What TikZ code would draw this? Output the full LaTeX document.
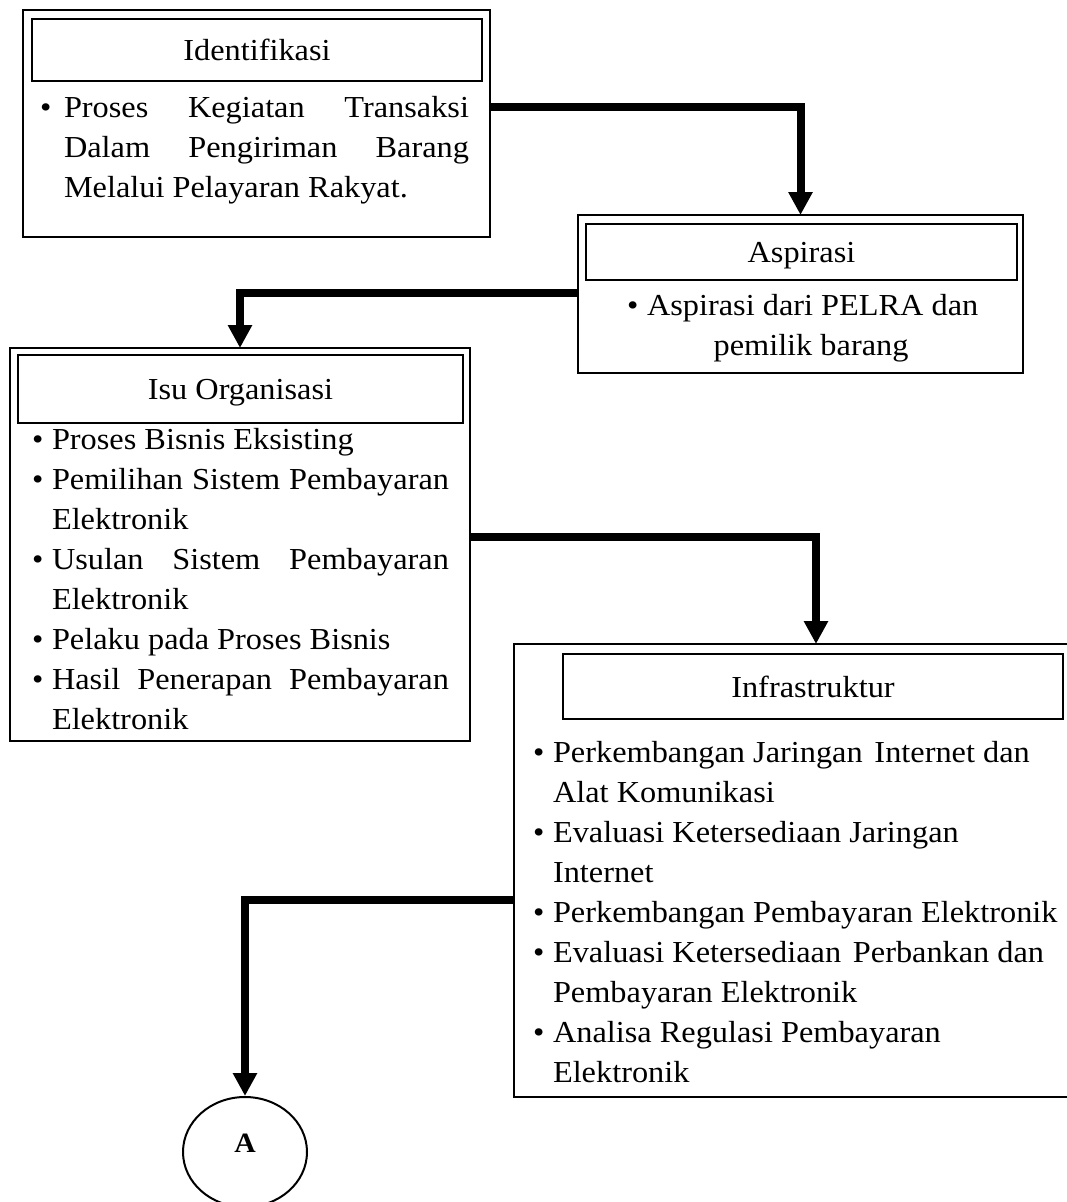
\documentclass[tikz,border=0pt]{standalone}
\usepackage{fontspec}
\setmainfont[FakeStretch=1.06]{Liberation Serif}
\usetikzlibrary{arrows.meta,shapes.geometric}
\begin{document}
\begin{tikzpicture}[x=1pt,y=-1pt,
  frame/.style={draw,line width=2pt,inner sep=0pt,outer sep=0pt,anchor=north west},
  titlebox/.style={frame,text height=21pt,text depth=0pt,font=\fontsize{30.5}{40}\selectfont},
  txt/.style={inner sep=0pt,outer sep=0pt,anchor=base west,font=\fontsize{30.5}{40}\selectfont},
  conn/.style={line width=8pt,-{Triangle[width=23pt,length=23pt]}}]
\useasboundingbox (0,0) rectangle (1067,1202);
\clip (0,0) rectangle (1067,1202);

% Identifikasi
\node[frame,minimum width=467pt,minimum height=227pt] (ident) at (23,10) {};
\node[titlebox,minimum width=450pt,minimum height=62pt] (identT) at (32,19) {Identifikasi};
\node[txt] (ib1) at (40,117) {•};
\node[txt] (i1) at (64,117) {\makebox[405pt][s]{Proses Kegiatan Transaksi}};
\node[txt] (i2) at (64,157) {\makebox[405pt][s]{Dalam Pengiriman Barang}};
\node[txt] (i3) at (64,197) {Melalui Pelayaran Rakyat.};

% Aspirasi
\node[frame,minimum width=445pt,minimum height=158pt] (asp) at (578,215) {};
\node[titlebox,minimum width=431pt,minimum height=56pt] (aspT) at (586,224) {Aspirasi};
\node[txt] (ab1) at (627,315) {•};
\node[txt] (a1) at (647,315) {Aspirasi dari PELRA dan};
\node[txt,anchor=base] (a2) at (811,355) {pemilik barang};

% Isu Organisasi
\node[frame,minimum width=460pt,minimum height=393pt] (isu) at (10,348) {};
\node[titlebox,minimum width=445pt,minimum height=68pt] (isuT) at (18,355) {Isu Organisasi};
\node[txt] (sb1) at (32,449) {•};
\node[txt] (s1) at (52,449) {Proses Bisnis Eksisting};
\node[txt] (sb2) at (32,489) {•};
\node[txt] (s2) at (52,489) {\makebox[397pt][s]{Pemilihan Sistem Pembayaran}};
\node[txt] (s3) at (52,529) {Elektronik};
\node[txt] (sb4) at (32,569) {•};
\node[txt] (s4) at (52,569) {\makebox[397pt][s]{Usulan Sistem Pembayaran}};
\node[txt] (s5) at (52,609) {Elektronik};
\node[txt] (sb6) at (32,649) {•};
\node[txt] (s6) at (52,649) {Pelaku pada Proses Bisnis};
\node[txt] (sb7) at (32,689) {•};
\node[txt] (s7) at (52,689) {\makebox[397pt][s]{Hasil Penerapan Pembayaran}};
\node[txt] (s8) at (52,729) {Elektronik};

% Infrastruktur
\node[frame,minimum width=604pt,minimum height=453pt] (inf) at (514,644) {};
\node[titlebox,minimum width=500pt,minimum height=65pt] (infT) at (563,654) {Infrastruktur};
\node[txt] (fb1) at (533,762) {•};
\node[txt] (f1) at (553,762) {Perkembangan Jaringan\hspace{0.12em} Internet dan};
\node[txt] (f2) at (553,802) {Alat Komunikasi};
\node[txt] (fb3) at (533,842) {•};
\node[txt] (f3) at (553,842) {Evaluasi Ketersediaan Jaringan};
\node[txt] (f4) at (553,882) {Internet};
\node[txt] (fb5) at (533,922) {•};
\node[txt] (f5) at (553,922) {Perkembangan Pembayaran Elektronik};
\node[txt] (fb6) at (533,962) {•};
\node[txt] (f6) at (553,962) {Evaluasi Ketersediaan\hspace{0.12em} Perbankan dan};
\node[txt] (f7) at (553,1002) {Pembayaran Elektronik};
\node[txt] (fb8) at (533,1042) {•};
\node[txt] (f8) at (553,1042) {Analisa Regulasi Pembayaran};
\node[txt] (f9) at (553,1082) {Elektronik};

% Off-page connector A
\node[draw,ellipse,line width=2pt,inner sep=0pt,minimum width=124pt,minimum height=110pt] (A) at (245,1152) {};
\node[inner sep=0pt,font=\fontsize{28}{30}\selectfont\bfseries] (Atext) at (245,1143) {A};

% Flow connectors
\coordinate (y1) at (0,107);
\coordinate (y2) at (0,293);
\coordinate (y3) at (0,537);
\coordinate (y4) at (0,900);
\draw[conn] (ident.east |- y1) -| (asp.north);
\draw[conn] (asp.west |- y2) -| (isu.north);
\draw[conn] (isu.east |- y3) -| (inf.north);
\draw[conn] (inf.west |- y4) -| (A.north);
\end{tikzpicture}
\end{document}
